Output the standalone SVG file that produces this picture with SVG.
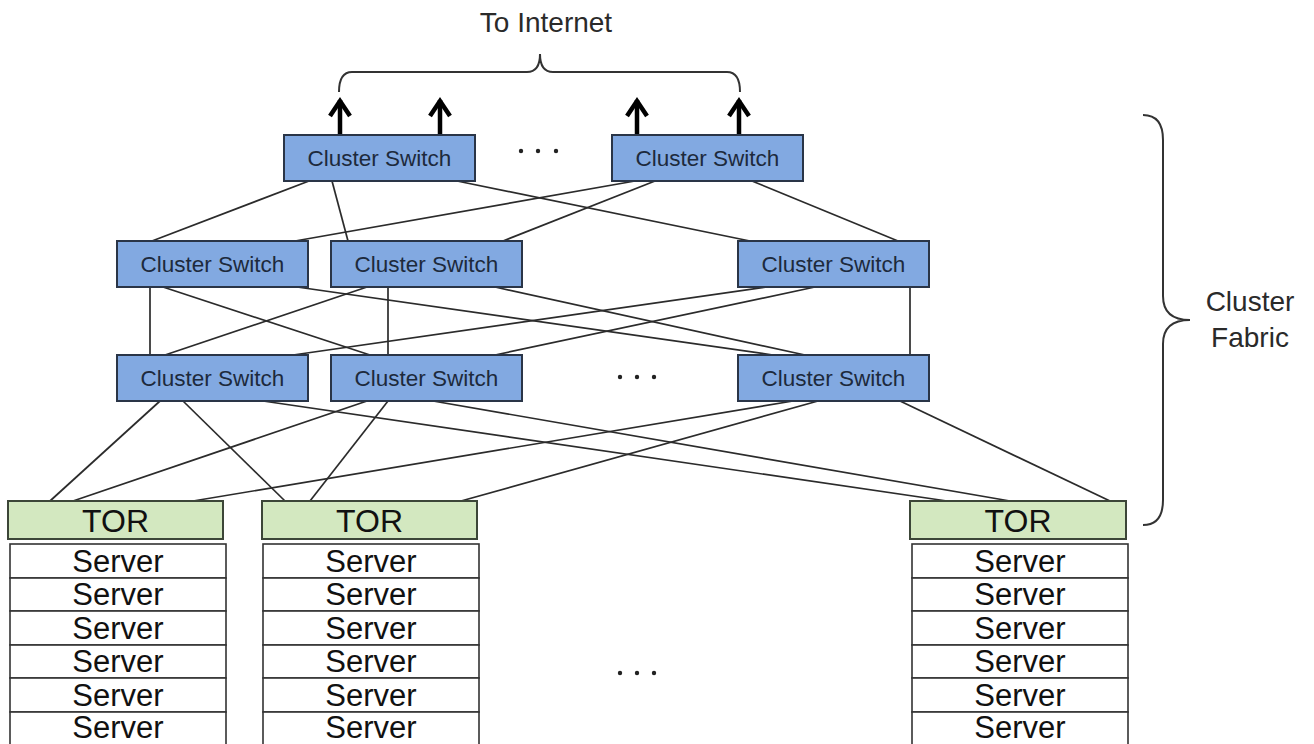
<svg xmlns="http://www.w3.org/2000/svg" width="1314" height="744" viewBox="0 0 1314 744">
  <style>
    .sw rect { fill: #82a9e1; stroke: #2a3547; stroke-width: 2; }
    .sw text { font-family: "Liberation Sans", Arial, sans-serif; font-size: 22.5px; fill: #1d2a3c; text-anchor: middle; }
    .tor rect { fill: #d3e8c0; stroke: #3c4638; stroke-width: 2; }
    .tor text { font-family: "Liberation Sans", Arial, sans-serif; font-size: 32px; fill: #111; text-anchor: middle; }
    .srv text { font-family: "Liberation Sans", Arial, sans-serif; font-size: 31px; fill: #111; text-anchor: middle; }
    .srv rect { fill: #fff; stroke: #333; stroke-width: 1.6; }
    .lbl { font-family: "Liberation Sans", Arial, sans-serif; font-size: 28px; fill: #2a2a2a; text-anchor: middle; }
    .links line { stroke: #2b2b2b; stroke-width: 1.7; }
    .up line, .up polyline { stroke: #000; stroke-width: 4.5; fill: none; stroke-linejoin: miter; stroke-miterlimit: 10; }
    .brace { fill: none; stroke: #333; stroke-width: 2; }
    .dot { fill: #222; }
  </style>

  <rect width="1314" height="744" fill="#fff"/>

  <!-- uplinks to the internet -->
  <g id="uplinks" class="up">
    <line x1="340" y1="135" x2="340" y2="100"/><polyline points="330,116 340,101 350,116"/>
    <line x1="440" y1="135" x2="440" y2="100"/><polyline points="430,116 440,101 450,116"/>
    <line x1="637" y1="135" x2="637" y2="100"/><polyline points="627,116 637,101 647,116"/>
    <line x1="739" y1="135" x2="739" y2="100"/><polyline points="729,116 739,101 749,116"/>
  </g>
  <path id="internet-brace" class="brace" d="M339,92 Q339,72 352,72 H527 Q540,72 540,54 Q540,72 553,72 H727 Q740,72 740,92"/>
  <text id="internet-label" class="lbl" x="546" y="32">To Internet</text>

  <!-- connectors between tiers -->
  <g id="connectors" class="links">
    <!-- top tier to middle tier -->
    <line x1="309" y1="181" x2="152" y2="241"/>
    <line x1="332" y1="181" x2="348" y2="241"/>
    <line x1="457" y1="181" x2="750" y2="241"/>
    <line x1="635" y1="181" x2="295" y2="241"/>
    <line x1="655" y1="181" x2="503" y2="241"/>
    <line x1="752" y1="181" x2="898" y2="241"/>
    <!-- middle tier to lower tier -->
    <line x1="150" y1="287" x2="150" y2="355"/>
    <line x1="163" y1="287" x2="370" y2="355"/>
    <line x1="297" y1="287" x2="773" y2="355"/>
    <line x1="367" y1="287" x2="165" y2="355"/>
    <line x1="388" y1="287" x2="388" y2="355"/>
    <line x1="495" y1="287" x2="805" y2="355"/>
    <line x1="767" y1="287" x2="293" y2="355"/>
    <line x1="815" y1="287" x2="495" y2="355"/>
    <line x1="910" y1="287" x2="910" y2="355"/>
    <!-- lower tier to TOR -->
    <line x1="160" y1="401" x2="50" y2="501"/>
    <line x1="183" y1="401" x2="285" y2="501"/>
    <line x1="263" y1="401" x2="947" y2="501"/>
    <line x1="367" y1="401" x2="73" y2="501"/>
    <line x1="388" y1="401" x2="310" y2="501"/>
    <line x1="433" y1="401" x2="1010" y2="501"/>
    <line x1="793" y1="401" x2="193" y2="501"/>
    <line x1="818" y1="401" x2="461" y2="501"/>
    <line x1="900" y1="401" x2="1110" y2="501"/>
  </g>

  <!-- top tier -->
  <g id="sw-top-1" class="sw"><rect x="284" y="135" width="191" height="46"/><text x="379.5" y="166">Cluster Switch</text></g>
  <g id="sw-top-2" class="sw"><rect x="612" y="135" width="191" height="46"/><text x="707.5" y="166">Cluster Switch</text></g>
  <g id="dots-top">
    <circle class="dot" cx="521" cy="151" r="2.2"/><circle class="dot" cx="538" cy="151" r="2.2"/><circle class="dot" cx="556" cy="151" r="2.2"/>
  </g>

  <!-- middle tier -->
  <g id="sw-mid-1" class="sw"><rect x="117" y="241" width="191" height="46"/><text x="212.5" y="272">Cluster Switch</text></g>
  <g id="sw-mid-2" class="sw"><rect x="331" y="241" width="191" height="46"/><text x="426.5" y="272">Cluster Switch</text></g>
  <g id="sw-mid-3" class="sw"><rect x="738" y="241" width="191" height="46"/><text x="833.5" y="272">Cluster Switch</text></g>

  <!-- lower tier -->
  <g id="sw-low-1" class="sw"><rect x="117" y="355" width="191" height="46"/><text x="212.5" y="386">Cluster Switch</text></g>
  <g id="sw-low-2" class="sw"><rect x="331" y="355" width="191" height="46"/><text x="426.5" y="386">Cluster Switch</text></g>
  <g id="sw-low-3" class="sw"><rect x="738" y="355" width="191" height="46"/><text x="833.5" y="386">Cluster Switch</text></g>
  <g id="dots-mid">
    <circle class="dot" cx="620" cy="377" r="2.2"/><circle class="dot" cx="637" cy="377" r="2.2"/><circle class="dot" cx="654" cy="377" r="2.2"/>
  </g>

  <!-- top-of-rack switches -->
  <g id="tor-1" class="tor"><rect x="8" y="501" width="215" height="38"/><text x="115.5" y="532">TOR</text></g>
  <g id="tor-2" class="tor"><rect x="262" y="501" width="215" height="38"/><text x="369.5" y="532">TOR</text></g>
  <g id="tor-3" class="tor"><rect x="910" y="501" width="216" height="38"/><text x="1018" y="532">TOR</text></g>

  <!-- server racks -->
  <g id="rack-1" class="srv">
    <rect x="10" y="544" width="216" height="34"/><text x="118" y="572">Server</text>
    <rect x="10" y="578" width="216" height="33"/><text x="118" y="605">Server</text>
    <rect x="10" y="611" width="216" height="34"/><text x="118" y="639">Server</text>
    <rect x="10" y="645" width="216" height="33"/><text x="118" y="672">Server</text>
    <rect x="10" y="678" width="216" height="34"/><text x="118" y="706">Server</text>
    <rect x="10" y="712" width="216" height="40"/><text x="118" y="738">Server</text>
  </g>
  <g id="rack-2" class="srv">
    <rect x="263" y="544" width="216" height="34"/><text x="371" y="572">Server</text>
    <rect x="263" y="578" width="216" height="33"/><text x="371" y="605">Server</text>
    <rect x="263" y="611" width="216" height="34"/><text x="371" y="639">Server</text>
    <rect x="263" y="645" width="216" height="33"/><text x="371" y="672">Server</text>
    <rect x="263" y="678" width="216" height="34"/><text x="371" y="706">Server</text>
    <rect x="263" y="712" width="216" height="40"/><text x="371" y="738">Server</text>
  </g>
  <g id="rack-3" class="srv">
    <rect x="912" y="544" width="216" height="34"/><text x="1020" y="572">Server</text>
    <rect x="912" y="578" width="216" height="33"/><text x="1020" y="605">Server</text>
    <rect x="912" y="611" width="216" height="34"/><text x="1020" y="639">Server</text>
    <rect x="912" y="645" width="216" height="33"/><text x="1020" y="672">Server</text>
    <rect x="912" y="678" width="216" height="34"/><text x="1020" y="706">Server</text>
    <rect x="912" y="712" width="216" height="40"/><text x="1020" y="738">Server</text>
  </g>
  <g id="dots-bottom">
    <circle class="dot" cx="620" cy="673" r="2.2"/><circle class="dot" cx="637" cy="673" r="2.2"/><circle class="dot" cx="654" cy="673" r="2.2"/>
  </g>

  <!-- fabric bracket -->
  <path id="fabric-brace" class="brace" d="M1143,115 Q1163,115 1163,140 V296 Q1163,320 1190,320 Q1163,320 1163,344 V500 Q1163,525 1143,525"/>
  <g id="fabric-label">
    <text class="lbl" x="1250" y="311">Cluster</text>
    <text class="lbl" x="1250" y="347">Fabric</text>
  </g>
</svg>
